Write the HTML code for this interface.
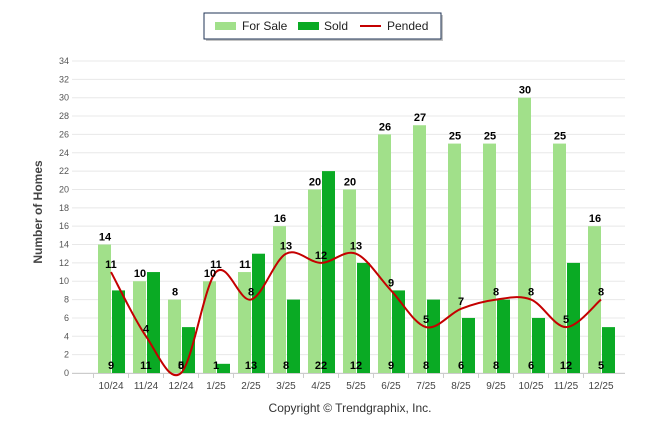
<!DOCTYPE html>
<html><head><meta charset="utf-8"><style>
body{margin:0;background:#fff;font-family:"Liberation Sans",sans-serif}
</style></head><body>
<svg id="chart" width="646" height="434" xmlns="http://www.w3.org/2000/svg">
<g>
<rect x="206" y="15" width="237" height="26" fill="#555" opacity="0.35"/>
<rect x="204" y="13" width="237" height="26" fill="#fff" stroke="#1f3354" stroke-width="1"/>
<rect x="215" y="22" width="21" height="8" fill="#a1e08a"/>
<text x="242" y="30" font-size="12" fill="#222">For Sale</text>
<rect x="298" y="22" width="21" height="8" fill="#0aaa24"/>
<text x="324" y="30" font-size="12" fill="#222">Sold</text>
<line x1="360" y1="26" x2="381" y2="26" stroke="#c40000" stroke-width="2"/>
<text x="387" y="30" font-size="12" fill="#222">Pended</text>
</g>
<g id="grid"></g><g id="bars"></g><g id="line"></g><g id="labels"></g>
<text transform="translate(42,212) rotate(-90)" text-anchor="middle" font-size="12" font-weight="bold" fill="#444">Number of Homes</text>
<text x="350" y="412" text-anchor="middle" font-size="12" fill="#333">Copyright © Trendgraphix, Inc.</text>
</svg>
<script>
const categories=["10/24","11/24","12/24","1/25","2/25","3/25","4/25","5/25","6/25","7/25","8/25","9/25","10/25","11/25","12/25"];
const forSale=[14,10,8,10,11,16,20,20,26,27,25,25,30,25,16];
const sold=[9,11,5,1,13,8,22,12,9,8,6,8,6,12,5];
const pended=[11,4,0,11,8,13,12,13,9,5,7,8,8,5,8];
const yTicks=[0,2,4,6,8,10,12,14,16,18,20,22,24,26,28,30,32,34];
const NS="http://www.w3.org/2000/svg";
const y=v=>373-v*(312/34);
const x=i=>111+i*35;
function mk(t,a,p,txt){const e=document.createElementNS(NS,t);for(const k in a)e.setAttribute(k,a[k]);if(txt!==undefined)e.textContent=txt;document.getElementById(p).appendChild(e);return e;}
yTicks.forEach(t=>{
 const l=mk('line',{x1:72,x2:625,y1:y(t),y2:y(t),stroke:'#e8e8e8','stroke-width':1},'grid');
 
 
 const tx=mk('text',{x:69,y:y(t)+3,'text-anchor':'end','font-size':9,fill:'#555'},'grid',t);
 
 
});
const ax=mk('line',{x1:72,x2:625,y1:373.5,y2:373.5,stroke:'#ccc'},'grid');


categories.forEach((c,i)=>{
 const tk=mk('line',{x1:x(i)-17.5,x2:x(i)-17.5,y1:373,y2:378,stroke:'#ccc'},'grid');
 
 
 const xl=mk('text',{x:x(i),y:389,'text-anchor':'middle','font-size':10,fill:'#444'},'grid',c);
 
 
 const b1=mk('rect',{x:x(i)-13,y:y(forSale[i]),width:13,height:373-y(forSale[i]),fill:'#a1e08a'},'bars');
 
 
 const b2=mk('rect',{x:x(i)+1,y:y(sold[i]),width:13,height:373-y(sold[i]),fill:'#0aaa24'},'bars');
 
 
 const l1=mk('text',{x:x(i)-6,y:y(forSale[i])-4,'text-anchor':'middle','font-size':11,'font-weight':'bold',fill:'#000'},'labels',forSale[i]);
 
 
 const l2=mk('text',{x:x(i),y:369,'text-anchor':'middle','font-size':11,'font-weight':'bold',fill:'#000'},'labels',sold[i]);
 
 
 const l3=mk('text',{x:x(i),y:Math.min(y(pended[i])-4,369),'text-anchor':'middle','font-size':11,'font-weight':'bold',fill:'#000'},'labels',pended[i]);
 
 
});
const pts=pended.map((v,i)=>[x(i),y(v)]);
let d='M'+pts[0][0]+','+pts[0][1];
for(let i=0;i<pts.length-1;i++){
 const p0=pts[Math.max(0,i-1)],p1=pts[i],p2=pts[i+1],p3=pts[Math.min(pts.length-1,i+2)];
 const c1=[p1[0]+(p2[0]-p0[0])/6,p1[1]+(p2[1]-p0[1])/6],c2=[p2[0]-(p3[0]-p1[0])/6,p2[1]-(p3[1]-p1[1])/6];
 d+=' C'+c1+' '+c2+' '+p2;
}
const pl=mk('path',{d:d,fill:'none',stroke:'#c40000','stroke-width':2},'line');


</script>
</body></html>
